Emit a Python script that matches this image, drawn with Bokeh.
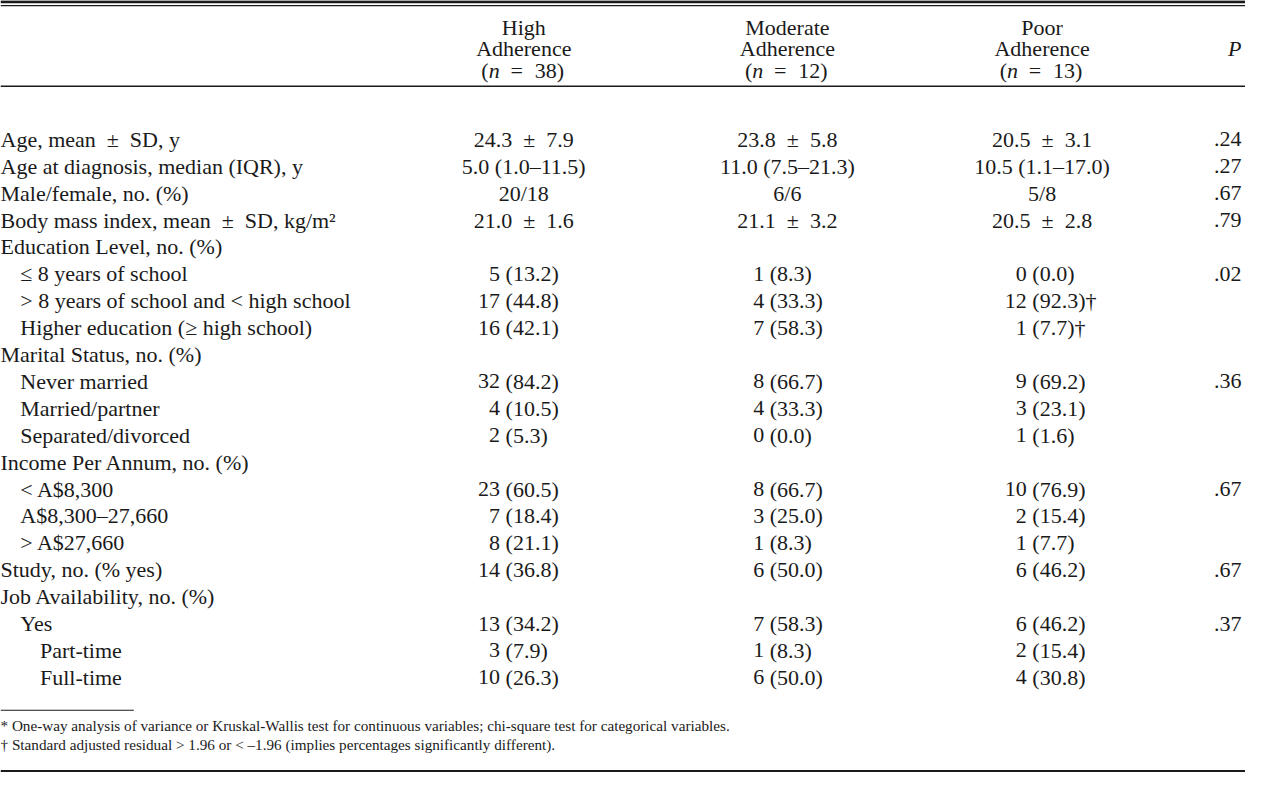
from bokeh.plotting import figure
from bokeh.models import ColumnDataSource, Range1d
from bokeh.embed import file_html
from bokeh.resources import INLINE
from bokeh.core.properties import value

# ---------------- data ----------------
PM = "\u2002\u00b1\u2002"

group_names = ["High", "Moderate", "Poor"]
group_n = [38, 12, 13]

labels = [
    "Age, mean" + PM + "SD, y",
    "Age at diagnosis, median (IQR), y",
    "Male/female, no. (%)",
    "Body mass index, mean" + PM + "SD, kg/m\u00b2",
    "Education Level, no. (%)",
    "\u2264 8 years of school",
    "> 8 years of school and < high school",
    "Higher education (\u2265 high school)",
    "Marital Status, no. (%)",
    "Never married",
    "Married/partner",
    "Separated/divorced",
    "Income Per Annum, no. (%)",
    "< A$8,300",
    "A$8,300\u201327,660",
    "> A$27,660",
    "Study, no. (% yes)",
    "Job Availability, no. (%)",
    "Yes",
    "Part-time",
    "Full-time",
]
indent = [0, 0, 0, 0, 0, 1, 1, 1, 0, 1, 1, 1, 0, 1, 1, 1, 0, 0, 1, 2, 2]
centered = [True, True, True, True] + [False] * 17

high = ["24.3" + PM + "7.9", "5.0 (1.0\u201311.5)", "20/18", "21.0" + PM + "1.6", "",
        "5 (13.2)", "17 (44.8)", "16 (42.1)", "",
        "32 (84.2)", "4 (10.5)", "2 (5.3)", "",
        "23 (60.5)", "7 (18.4)", "8 (21.1)", "14 (36.8)", "",
        "13 (34.2)", "3 (7.9)", "10 (26.3)"]
moderate = ["23.8" + PM + "5.8", "11.0 (7.5\u201321.3)", "6/6", "21.1" + PM + "3.2", "",
            "1 (8.3)", "4 (33.3)", "7 (58.3)", "",
            "8 (66.7)", "4 (33.3)", "0 (0.0)", "",
            "8 (66.7)", "3 (25.0)", "1 (8.3)", "6 (50.0)", "",
            "7 (58.3)", "1 (8.3)", "6 (50.0)"]
poor = ["20.5" + PM + "3.1", "10.5 (1.1\u201317.0)", "5/8", "20.5" + PM + "2.8", "",
        "0 (0.0)", "12 (92.3)\u2020", "1 (7.7)\u2020", "",
        "9 (69.2)", "3 (23.1)", "1 (1.6)", "",
        "10 (76.9)", "2 (15.4)", "1 (7.7)", "6 (46.2)", "",
        "6 (46.2)", "2 (15.4)", "4 (30.8)"]
p_values = [".24", ".27", ".67", ".79", "", ".02", "", "", "", ".36", "", "", "",
            ".67", "", "", ".67", "", ".37", "", ""]

footnotes = [
    "* One-way analysis of variance or Kruskal-Wallis test for continuous variables; chi-square test for categorical variables.",
    "\u2020 Standard adjusted residual > 1.96 or < \u20131.96 (implies percentages significantly different).",
]

# ---------------- layout ----------------
W, H = 1245, 772
FONT = "Liberation Serif"
INK = "#1a1a1a"
FS = "22px"

col_center = [530, 797, 1055]
col_count_right = [506, 773.5, 1039.5]
gap = 5.6
p_right = 1257
row_y0, row_dy = 141.7, 27.46
indent_px = [0, 20, 40]

p = figure(width=W, height=H, output_backend="svg", toolbar_location=None,
           x_range=Range1d(0, 1261), y_range=Range1d(788, 0),
           min_border=0, outline_line_color=None)
p.axis.visible = False
p.grid.visible = False
p.background_fill_color = "white"
p.border_fill_color = "white"

def txt(xs, ys, texts, align="left", size=FS, style="normal"):
    src = ColumnDataSource(dict(x=xs, y=ys, t=texts))
    p.text(x="x", y="y", text="t", source=src, text_font=value(FONT),
           text_font_size=size, text_align=align, text_baseline="middle",
           text_color=INK, text_font_style=style)

# rules
p.segment(x0=[0, 0, 0, 0, 0], x1=[1261, 1261, 1261, 135, 1261],
          y0=[1.3, 5.3, 87.5, 724.5, 786.8], y1=[1.3, 5.3, 87.5, 724.5, 786.8],
          line_color=INK, line_width=[2.8, 1.3, 1.4, 1.1, 2.4])

# header
hy = [28, 49.5, 71]
for i, (g, n) in enumerate(zip(group_names, group_n)):
    cx = col_center[i]
    txt([cx, cx], hy[:2], [g, "Adherence"], align="center")
    left = cx - 43
    txt([left], [hy[2]], ["("], align="left")
    txt([left + 7.5], [hy[2]], ["n"], align="left", style="italic")
    txt([left + 29.5], [hy[2]], ["="], align="left")
    txt([left + 54], [hy[2]], ["%d)" % n], align="left")
txt([p_right], [hy[1]], ["P"], align="right", style="italic")

# rows
ys = [row_y0 + row_dy * i for i in range(len(labels))]
txt([indent_px[k] for k in indent], ys, labels, align="left")

for ci, col in enumerate([high, moderate, poor]):
    cy_c, cen, cnt, rst, cyr = [], [], [], [], []
    for i, v in enumerate(col):
        if not v:
            continue
        if centered[i]:
            cy_c.append(ys[i]); cen.append(v)
        else:
            a, b = v.split(" ", 1)
            cnt.append(a); rst.append(b); cyr.append(ys[i])
    txt([col_center[ci]] * len(cen), cy_c, cen, align="center")
    txt([col_count_right[ci]] * len(cnt), cyr, cnt, align="right")
    txt([col_count_right[ci] + gap] * len(rst), cyr, rst, align="left")

pv_y = [ys[i] for i, v in enumerate(p_values) if v]
pv = [v for v in p_values if v]
txt([p_right] * len(pv), pv_y, pv, align="right")

# footnotes
txt([0, 0], [740.5, 759.5], footnotes, align="left", size="15.2px")

open("out.html", "w").write(file_html(p, INLINE))
